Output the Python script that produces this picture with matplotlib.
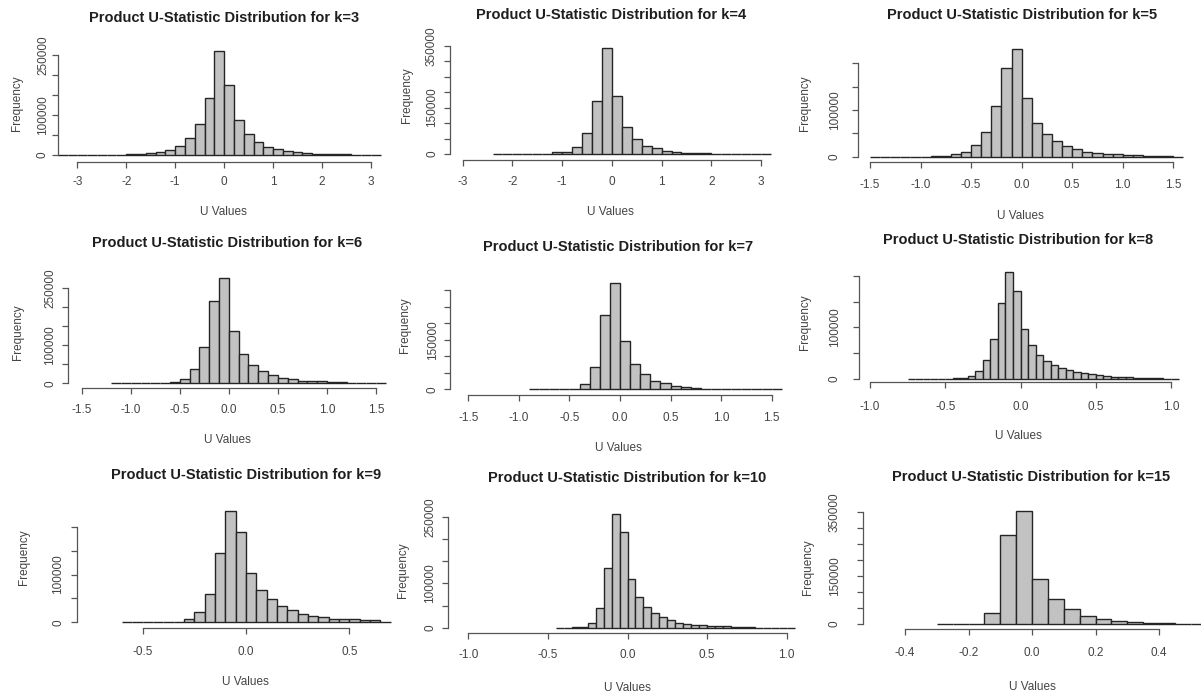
import numpy as np
import matplotlib
matplotlib.use('Agg')
import matplotlib.pyplot as plt

plt.rcParams['font.family'] = ['Liberation Sans', 'DejaVu Sans']

k_values = [3, 4, 5, 6, 7, 8, 9, 10, 15]
bin_start = [-3.4, -2.4, -1.5, -1.2, -0.9, -0.75, -0.6, -0.45, -0.3]
bin_width = [0.2, 0.2, 0.1, 0.1, 0.1, 0.05, 0.05, 0.05, 0.05]

counts_k3 = [100, 100, 200, 200, 300, 500, 800, 2500, 2500, 4000, 7500, 12500, 23000,
             42000, 77000, 143000, 261000, 175000, 87500, 52500, 31500, 21000, 15000,
             11000, 6500, 5000, 2500, 2000, 1500, 1500, 300, 100, 100]
counts_k4 = [100, 100, 200, 300, 500, 1000, 5400, 7500, 23600, 66700, 171000, 341000,
             187000, 86000, 49500, 27000, 18300, 10800, 5400, 4300, 3200, 3000, 800,
             400, 200, 100, 100, 100]
counts_k5 = [100, 100, 100, 200, 200, 300, 500, 1500, 5000, 9300, 25000, 52000, 108600,
             189000, 230000, 125000, 72900, 47900, 33600, 23600, 16400, 10700, 7900,
             6400, 5000, 3600, 2900, 1400, 1000, 700, 200]
counts_k6 = [100, 100, 200, 300, 500, 1000, 4400, 10500, 36800, 94700, 216600, 276000,
             137700, 76300, 49100, 33300, 22800, 14900, 10500, 7000, 6100, 5300, 2600,
             2600, 1800, 200, 100, 100]
counts_k7 = [100, 200, 300, 500, 2000, 15000, 68000, 225000, 321000, 146000, 76000,
             45000, 26000, 19000, 10000, 6000, 4000, 2000, 2000, 1500, 300, 200, 100,
             100, 100]
counts_k8 = [100, 100, 200, 200, 300, 500, 1000, 2600, 5800, 15500, 36800, 77400, 147700,
             207700, 170300, 96800, 65800, 46400, 34800, 27100, 21900, 17400, 14200,
             11000, 9700, 7100, 5800, 4500, 4500, 3200, 2600, 2600, 1900, 1900, 300, 100]
counts_k9 = [100, 100, 200, 300, 500, 1400, 6300, 21600, 59200, 144300, 233500, 189600,
             102500, 67600, 48100, 34900, 25100, 18100, 13900, 10500, 7700, 7700, 6300,
             4200, 4200, 1400]
counts_k10 = [100, 300, 600, 2300, 11300, 43500, 133600, 256000, 216200, 109600, 69100,
              47300, 33800, 24000, 16500, 11300, 9000, 6000, 5300, 3800, 3000, 3000,
              2300, 1500, 500, 300, 200, 100, 100, 100]
counts_k15 = [200, 400, 800, 34400, 278700, 355000, 140900, 77200, 45900, 26100, 15700,
              9400, 6300, 3100, 2100, 1000, 200]
all_counts = [counts_k3, counts_k4, counts_k5, counts_k6, counts_k7, counts_k8,
              counts_k9, counts_k10, counts_k15]

# деления осей
x_ticks = [
    [-3, -2, -1, 0, 1, 2, 3],
    [-3, -2, -1, 0, 1, 2, 3],
    [-1.5, -1.0, -0.5, 0.0, 0.5, 1.0, 1.5],
    [-1.5, -1.0, -0.5, 0.0, 0.5, 1.0, 1.5],
    [-1.5, -1.0, -0.5, 0.0, 0.5, 1.0, 1.5],
    [-1.0, -0.5, 0.0, 0.5, 1.0],
    [-0.5, 0.0, 0.5],
    [-1.0, -0.5, 0.0, 0.5, 1.0],
    [-0.4, -0.2, 0.0, 0.2, 0.4],
]
x_tick_labels = [
    ['-3', '-2', '-1', '0', '1', '2', '3'],
    ['-3', '-2', '-1', '0', '1', '2', '3'],
    ['-1.5', '-1.0', '-0.5', '0.0', '0.5', '1.0', '1.5'],
    ['-1.5', '-1.0', '-0.5', '0.0', '0.5', '1.0', '1.5'],
    ['-1.5', '-1.0', '-0.5', '0.0', '0.5', '1.0', '1.5'],
    ['-1.0', '-0.5', '0.0', '0.5', '1.0'],
    ['-0.5', '0.0', '0.5'],
    ['-1.0', '-0.5', '0.0', '0.5', '1.0'],
    ['-0.4', '-0.2', '0.0', '0.2', '0.4'],
]
y_tick_top = [250000, 350000, 200000, 250000, 300000, 200000, 200000, 250000, 350000]
y_labeled = [
    [0, 100000, 250000],
    [0, 150000, 350000],
    [0, 100000],
    [0, 100000, 250000],
    [0, 150000],
    [0, 100000],
    [0, 100000],
    [0, 100000, 250000],
    [0, 150000, 350000],
]

# раскладка коллажа в пикселях исходной картинки
# (x_a, px_a, x_b, px_b, baseline, x-axis line, y top px, y-axis px,
#  title xy, xtick label y, xlabel xy, ylabel xy, ytick label x)
layout = [
    (-3, 77.3, 3, 371, 155, 161.7, 55, 58.3, (224, 18), 182, (223, 212), (17, 103), 43),
    (-3, 462.7, 3, 761, 154, 160, 45.7, 450, (611, 15), 182, (610, 212), (407, 95), 432),
    (-1.5, 870, 1.5, 1173.3, 156.7, 162.3, 63.3, 858.3, (1022, 15), 185, (1020, 216), (805, 103), 835),
    (-1.5, 81.7, 1.5, 376, 383.3, 387.7, 288.3, 68.3, (227.5, 243), 410, (227, 440), (18, 332), 50),
    (-1.5, 468.3, 1.5, 771.7, 389.3, 395, 290, 450, (618, 247), 417.7, (618, 448), (405, 325), 433),
    (-1, 870, 1, 1171, 379, 382.3, 275.7, 859.3, (1018, 240), 406.7, (1018, 436), (805, 322), 835),
    (-0.5, 142.7, 0.5, 349.3, 622.3, 628.3, 526.7, 77.3, (246, 475), 651.7, (245, 682), (24, 557), 58.3),
    (-1, 468.3, 1, 786.7, 627.7, 632.7, 516.7, 448.3, (627, 478), 655, (627, 688), (403, 570), 430),
    (-0.4, 905, 0.4, 1159, 624, 629.3, 512.3, 863.3, (1031, 477), 653.3, (1032, 687), (808, 567), 835),
]

W, H = 1201, 698
PT = 0.72  # пунктов в пикселе при dpi=100
TICK = 6   # длина делений, px

fig = plt.figure(figsize=(W / 100, H / 100), dpi=100)

for i, k in enumerate(k_values):
    counts = np.array(all_counts[i])
    edges = np.round(bin_start[i] + bin_width[i] * np.arange(len(counts) + 1), 4)
    (xa, pxa, xb, pxb, base, xaxis_py, ytop_py, yaxis_px,
     tpos, xtl_y, xlpos, ylpos, ytl_x) = layout[i]

    sx = (pxb - pxa) / (xb - xa)
    xlo = min(edges[0], x_ticks[i][0])
    xhi = max(edges[-1], x_ticks[i][-1])
    left = pxa + (xlo - xa) * sx
    right = pxa + (xhi - xa) * sx
    ytop = y_tick_top[i]
    sy = (base - ytop_py) / ytop
    yhi = max(counts.max(), ytop)
    top = base - yhi * sy

    ax = fig.add_axes([left / W, 1 - base / H, (right - left) / W, (base - top) / H])
    ax.set_xlim(xlo, xhi)
    ax.set_ylim(0, yhi)
    ax.patch.set_visible(False)

    ax.bar(edges[:-1], counts, width=bin_width[i], align='edge', color='#c2c2c2',
           edgecolor='#252525', linewidth=1.0, clip_on=False)

    for s in ['top', 'right']:
        ax.spines[s].set_visible(False)
    ax.spines['bottom'].set_position(('outward', (xaxis_py - base) * PT))
    ax.spines['bottom'].set_bounds(x_ticks[i][0], x_ticks[i][-1])
    ax.spines['left'].set_position(('outward', (left - yaxis_px) * PT))
    ax.spines['left'].set_bounds(0, ytop)
    for s in ['bottom', 'left']:
        ax.spines[s].set_color('#555555')
        ax.spines[s].set_linewidth(0.9)

    ax.set_xticks(x_ticks[i], labels=x_tick_labels[i])
    yt = np.arange(0, ytop + 1, 50000)
    ax.set_yticks(yt, labels=[str(int(v)) if v in y_labeled[i] else '' for v in yt])

    xpad = (xtl_y - 6 - xaxis_py - TICK) * PT
    ypad = (yaxis_px - TICK - (ytl_x + 6)) * PT
    ax.tick_params(axis='x', length=TICK * PT, width=0.9, color='#555555',
                   labelsize=8.5, labelcolor='#444444', pad=xpad)
    ax.tick_params(axis='y', length=TICK * PT, width=0.9, color='#555555',
                   labelsize=8.5, labelcolor='#444444', pad=ypad)
    for lab in ax.get_yticklabels():
        lab.set_rotation(90)
        lab.set_va('center')

    fig.text(tpos[0] / W, 1 - tpos[1] / H, f'Product U-Statistic Distribution for k={k}',
             ha='center', va='center', fontsize=10.5, fontweight='bold', color='#1e1e1e')
    fig.text(xlpos[0] / W, 1 - xlpos[1] / H, 'U Values', ha='center', va='center',
             fontsize=8.5, color='#444444')
    fig.text(ylpos[0] / W, 1 - ylpos[1] / H, 'Frequency', ha='center', va='center',
             rotation=90, fontsize=8.5, color='#444444')

fig.savefig('out.png', dpi=100)
